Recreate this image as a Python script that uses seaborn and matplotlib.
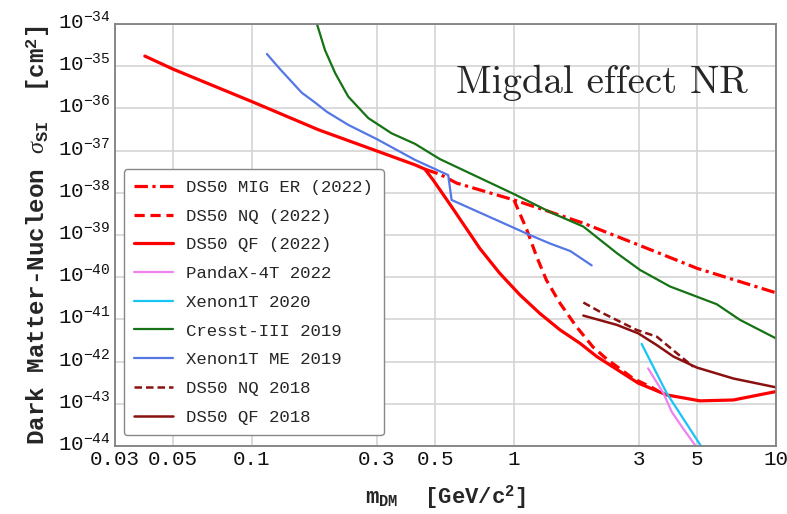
import numpy as np
import seaborn as sns
import matplotlib.pyplot as plt
from matplotlib.ticker import FixedLocator, LogLocator, NullFormatter, FixedFormatter
from matplotlib.transforms import ScaledTranslation

# ========= data =========
# mass in GeV/c^2, cross section given as log10(sigma / cm^2)
mig_er_mass = [0.457, 0.521, 0.604, 1.0, 1.37, 1.84, 3.0, 5.0, 10.0]
mig_er_logsig = [-37.44, -37.56, -37.77, -38.17, -38.45, -38.72, -39.24, -39.79, -40.37]

nq22_mass = [1.0, 1.12, 1.22, 1.33, 1.50, 1.73, 2.0, 2.26, 2.85, 3.40, 3.55]
nq22_logsig = [-38.17, -38.88, -39.51, -40.07, -40.62, -41.17, -41.65, -41.94, -42.40, -42.63, -42.70]

qf22_mass = [0.039, 0.05, 0.1, 0.18, 0.3, 0.42, 0.457, 0.492, 0.578, 0.741, 0.883,
             1.054, 1.256, 1.50, 1.79, 2.07, 2.98, 3.83, 5.13, 6.87, 10.0]
qf22_logsig = [-34.76, -35.07, -35.84, -36.51, -37.01, -37.34, -37.44, -37.70, -38.33, -39.32,
               -39.91, -40.42, -40.86, -41.25, -41.57, -41.88, -42.51, -42.79, -42.93, -42.91, -42.71]

pandax_mass = [3.25, 3.72, 4.0, 4.37, 4.91]
pandax_logsig = [-42.16, -42.75, -43.19, -43.54, -43.98]

xe20_mass = [3.07, 3.83, 4.50, 5.20]
xe20_logsig = [-41.58, -42.75, -43.42, -44.02]

cresst_mass = [0.177, 0.190, 0.208, 0.233, 0.278, 0.341, 0.419, 0.521, 1.0, 1.41, 1.84,
               2.47, 3.03, 3.94, 5.94, 7.28, 10.0]
cresst_logsig = [-34.0, -34.62, -35.17, -35.72, -36.23, -36.59, -36.84, -37.20, -38.03, -38.49, -38.80,
                 -39.43, -39.83, -40.22, -40.64, -41.01, -41.45]

xeme_mass = [0.114, 0.128, 0.155, 0.174, 0.193, 0.233, 0.3, 0.419, 0.561, 0.578, 1.15, 1.37, 1.64, 1.98]
xeme_logsig = [-34.71, -35.07, -35.63, -35.86, -36.08, -36.39, -36.73, -37.22, -37.58, -38.17,
               -39.00, -39.20, -39.38, -39.72]

nq18_mass = [1.84, 2.13, 2.94, 3.51, 4.18, 4.83]
nq18_logsig = [-40.60, -40.82, -41.25, -41.41, -41.80, -42.12]

qf18_mass = [1.84, 2.47, 2.98, 3.51, 4.06, 4.98, 6.87, 10.0]
qf18_logsig = [-40.91, -41.13, -41.33, -41.61, -41.88, -42.14, -42.40, -42.61]

x_ticks = [0.03, 0.05, 0.1, 0.3, 0.5, 1, 3, 5, 10]
x_ticklabels = ["0.03", "0.05", "0.1", "0.3", "0.5", "1", "3", "5", "10"]
y_exponents = list(range(-44, -33))

# ========= style =========
sns.set_theme(style="white")
plt.rcParams["font.family"] = ["Liberation Mono", "DejaVu Sans Mono"]
plt.rcParams["mathtext.fontset"] = "custom"
plt.rcParams["mathtext.rm"] = "Liberation Mono"
plt.rcParams["mathtext.bf"] = "Liberation Mono:bold"
plt.rcParams["mathtext.it"] = "Liberation Serif:italic"

fig = plt.figure(figsize=(7.87, 5.14), dpi=100)
ax = fig.add_axes([0.1461, 0.1323, 0.8399, 0.821])
ax.set_xscale("log")
ax.set_yscale("log")

curves = [
    ("DS50 MIG ER (2022)", mig_er_mass, mig_er_logsig, "#ff0000", 2.3, (0, (4.2, 1.4, 1.0, 1.4))),
    ("DS50 NQ (2022)", nq22_mass, nq22_logsig, "#ff0000", 2.3, (0, (3.2, 1.8))),
    ("DS50 QF (2022)", qf22_mass, qf22_logsig, "#ff0000", 2.3, "-"),
    ("PandaX-4T 2022", pandax_mass, pandax_logsig, "#ee82ee", 1.6, "-"),
    ("Xenon1T 2020", xe20_mass, xe20_logsig, "#18c4f4", 1.6, "-"),
    ("Cresst-III 2019", cresst_mass, cresst_logsig, "#157215", 1.6, "-"),
    ("Xenon1T ME 2019", xeme_mass, xeme_logsig, "#5577e6", 1.6, "-"),
    ("DS50 NQ 2018", nq18_mass, nq18_logsig, "#8b1111", 1.8, (0, (3.0, 1.6))),
    ("DS50 QF 2018", qf18_mass, qf18_logsig, "#8b1111", 1.8, "-"),
]

for label, mass, logsig, color, lw, ls in curves:
    sns.lineplot(x=mass, y=np.power(10.0, logsig), ax=ax, color=color, lw=lw,
                 linestyle=ls, label=label, sort=False, estimator=None)

ax.set_xlim(0.03, 10)
ax.set_ylim(1e-44, 1e-34)

# ticks
ax.xaxis.set_major_locator(FixedLocator(x_ticks))
ax.xaxis.set_major_formatter(FixedFormatter(x_ticklabels))
ax.xaxis.set_minor_locator(LogLocator(base=10, subs=np.arange(2, 10)))
ax.xaxis.set_minor_formatter(NullFormatter())
ax.yaxis.set_major_locator(FixedLocator([10.0 ** e for e in y_exponents]))
ax.yaxis.set_major_formatter(FixedFormatter([r"$10^{%d}$" % e for e in y_exponents]))
ax.yaxis.set_minor_locator(LogLocator(base=10, subs=np.arange(2, 10), numticks=20))
ax.yaxis.set_minor_formatter(NullFormatter())
ax.tick_params(which="both", direction="in", colors="#777777", labelcolor="#111111")
ax.tick_params(which="major", length=6, width=1.0, labelsize=15)
ax.tick_params(axis="x", which="major", pad=3)
ax.tick_params(axis="y", which="major", pad=3)
ax.tick_params(which="minor", length=3, width=0.8)

# y labels sit a little above their ticks in the original
for lbl in ax.get_yticklabels():
    lbl.set_transform(lbl.get_transform() + ScaledTranslation(0, 3.5 / 72, fig.dpi_scale_trans))

ax.grid(True, which="major", color="#d4d4d4", lw=1.2)
for s in ax.spines.values():
    s.set_color("#808080")
    s.set_linewidth(1.3)

ax.set_xlabel(r"$\mathbf{m_{DM}}$  [GeV/c$^{\mathbf{2}}$]", fontsize=16, fontweight="bold", labelpad=10)
ax.set_ylabel(r"Dark Matter-Nucleon $\sigma_{\mathbf{SI}}$  [cm$^{\mathbf{2}}$]", fontsize=17.5,
              fontweight="bold", labelpad=4)

ax.text(0.958, 0.86, "Migdal effect NR", transform=ax.transAxes, ha="right", va="center",
        fontsize=28, family="cmr10")

ax.legend(loc="lower left", bbox_to_anchor=(0.0136, 0.026), borderaxespad=0,
          fontsize=12.5, labelspacing=0.78, handlelength=2.2, handletextpad=0.8,
          frameon=True, fancybox=True, edgecolor="#888888", framealpha=1,
          borderpad=0.6)

fig.savefig("out.png", dpi=100)
